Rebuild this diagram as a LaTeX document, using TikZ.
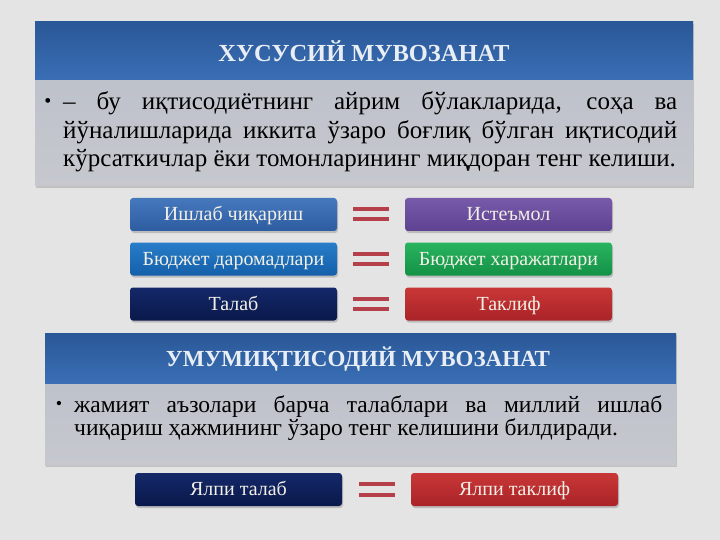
\documentclass[tikz,border=0pt]{standalone}
\usepackage{fontspec}
\setmainfont{Liberation Serif}
\usetikzlibrary{shadows,calc}
\definecolor{bg}{HTML}{E4E4E4}
\definecolor{titletop}{HTML}{2A5897}
\definecolor{titlebot}{HTML}{3A6EB5}
\definecolor{bodytop}{HTML}{B9BEC8}
\definecolor{bodybot}{HTML}{C6C8CE}
\definecolor{eqred}{HTML}{B5404A}
\definecolor{boxtext}{HTML}{F2F0E6}
\definecolor{titletxt}{HTML}{E8EEF4}
\tikzset{
  panel/.style={fill=bodybot, drop shadow={shadow xshift=1pt, shadow yshift=-2pt, opacity=.35}},
  band/.style={top color=titletop, bottom color=titlebot},
  titletext/.style={font=\bfseries\fontsize{24.5}{28}\selectfont, text=titletxt},
  bodytext/.style={align=justify, inner sep=0pt, anchor=base west},
  cbox/.style={minimum width=207pt, minimum height=33pt, rounded corners=3pt, inner sep=0pt,
     text height=15pt, text depth=3pt,
     text=boxtext, font=\fontsize{20}{22}\selectfont,
     drop shadow={shadow xshift=1pt, shadow yshift=-2pt, opacity=.4}},
  eqbar/.style={eqred, line width=4pt},
}
\newcommand{\eqsign}[2]{%
  \coordinate (m) at ($(#1.east)!0.5!(#2.west)$);
  \draw[eqbar] ($(m)+(-18,-5.5)$) -- ($(m)+(18,-5.5)$);
  \draw[eqbar] ($(m)+(-18,5)$) -- ($(m)+(18,5)$);
}
\begin{document}
\begin{tikzpicture}[x=1pt,y=-1pt]
\fill[bg] (0,0) rectangle (720,540);
\useasboundingbox (0,0) rectangle (720,540);

% panel 1
\fill[panel, top color=bodytop, bottom color=bodybot] (35,22) rectangle (693,186);
\fill[band] (35,22) rectangle (693,80);
\node[titletext] (t1) at (364,51) {ХУСУСИЙ МУВОЗАНАТ};
\node[font=\fontsize{20}{20}\selectfont, inner sep=0pt] (b1) at (48,103) {•};
\node[bodytext, font=\fontsize{25}{28.5}\selectfont, text width=614pt] (p1) at (63,110)
 {– бу иқтисодиётнинг айрим бўлакларида, соҳа ва\linebreak йўналишларида иккита ўзаро боғлиқ бўлган иқтисодий\linebreak кўрсаткичлар ёки томонларининг миқдоран тенг келиши.};

% rows
\node[cbox, top color={rgb,255:red,70;green,120;blue,190}, bottom color={rgb,255:red,45;green,92;blue,160}] (a1) at (233.5,214.5) {Ишлаб чиқариш};
\node[cbox, top color={rgb,255:red,120;green,90;blue,170}, bottom color={rgb,255:red,95;green,65;blue,145}] (b1r) at (508.5,214.5) {Истеъмол};
\node[cbox, top color={rgb,255:red,40;green,125;blue,200}, bottom color={rgb,255:red,20;green,95;blue,170}] (a2) at (233.5,259) {Бюджет даромадлари};
\node[cbox, top color={rgb,255:red,40;green,180;blue,95}, bottom color={rgb,255:red,20;green,145;blue,70}] (b2) at (508.5,259) {Бюджет харажатлари};
\node[cbox, top color={rgb,255:red,20;green,40;blue,105}, bottom color={rgb,255:red,10;green,25;blue,75}] (a3) at (233.5,304) {Талаб};
\node[cbox, top color={rgb,255:red,200;green,55;blue,55}, bottom color={rgb,255:red,170;green,35;blue,40}] (b3) at (508.5,304) {Таклиф};
\eqsign{a1}{b1r}
\eqsign{a2}{b2}
\eqsign{a3}{b3}

% panel 2
\fill[panel, top color=bodytop, bottom color=bodybot] (45,333) rectangle (676,465);
\fill[band] (45,333) rectangle (676,383);
\node[titletext, font=\bfseries\fontsize{23}{26}\selectfont] (t2) at (358,359) {УМУМИҚТИСОДИЙ МУВОЗАНАТ};
\node[font=\fontsize{18}{20}\selectfont, inner sep=0pt] (b2b) at (59,405) {•};
\node[bodytext, font=\fontsize{23.5}{23}\selectfont, text width=588pt] (p2) at (74,412)
 {жамият аъзолари барча талаблари ва миллий ишлаб\linebreak чиқариш ҳажмининг ўзаро тенг келишини билдиради.};

\node[cbox, top color={rgb,255:red,20;green,40;blue,105}, bottom color={rgb,255:red,10;green,25;blue,75}] (c1) at (238.5,489.5) {Ялпи талаб};
\node[cbox, top color={rgb,255:red,200;green,55;blue,55}, bottom color={rgb,255:red,170;green,35;blue,40}] (c2) at (514.5,489.5) {Ялпи таклиф};
\eqsign{c1}{c2}
\end{tikzpicture}
\end{document}
